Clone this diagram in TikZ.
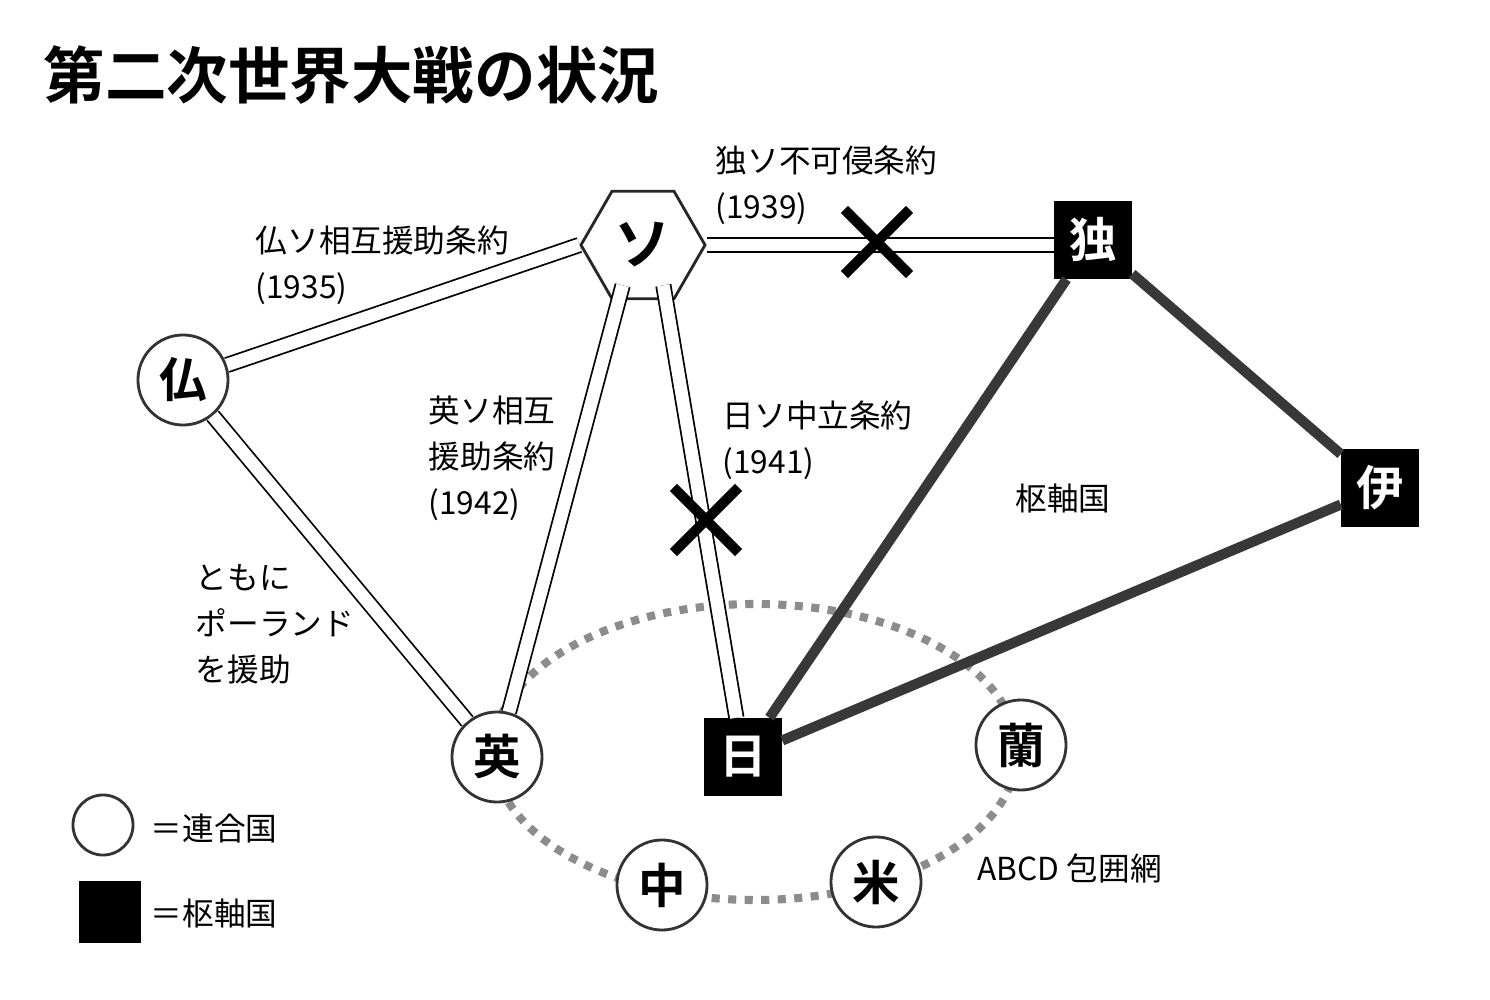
\documentclass[tikz,border=0pt]{standalone}
\usepackage{fontspec}
\setmainfont{Noto Sans CJK JP}[BoldFont={* Bold}]
\usetikzlibrary{shapes.geometric, shapes.misc, positioning}

\begin{document}
\begin{tikzpicture}[
    x=0.01cm, y=-0.01cm,
    ally/.style={circle, draw=black!80, thick, fill=white, minimum size=0.9cm, inner sep=0pt, font=\fontsize{13.5pt}{13.5pt}\selectfont\bfseries},
    axis/.style={rectangle, fill=black, text=white, minimum size=0.77cm, inner sep=0pt, font=\fontsize{13.5pt}{13.5pt}\selectfont\bfseries},
    soviet/.style={regular polygon, regular polygon sides=6, draw=black!85, thick, fill=white, minimum size=1.24cm, inner sep=0pt, font=\fontsize{16pt}{16pt}\selectfont\bfseries},
    pact/.style={draw, double, double distance=3.6pt, line width=0.5pt},
    axisline/.style={draw=black!78, line width=2.9pt},
    ring/.style={draw=black!45, line width=2.3pt, dash pattern=on 2.3pt off 2.4pt},
    broken/.style={cross out, draw, line width=2.9pt, minimum size=0.55cm, inner sep=0pt},
    note/.style={anchor=north west, inner sep=0pt, align=left, font=\fontsize{9pt}{13.1pt}\selectfont}
]
\useasboundingbox (0,0) rectangle (1490,1000);

\node [anchor=west, inner sep=0pt, font=\fontsize{17.5pt}{20pt}\selectfont\bfseries] (title) at (43,75) {第二次世界大戦の状況};

% ABCD ring
\draw [ring] (755,752) ellipse [x radius=262, y radius=148];

% countries
\node [soviet] (su) at (643,245) {ソ};
\node [ally] (fr) at (183,380) {仏};
\node [ally] (uk) at (497,757) {英};
\node [ally] (nl) at (1021,745) {蘭};
\node [ally] (cn) at (662,885) {中};
\node [ally] (us) at (876,882) {米};
\node [axis] (de) at (1093,240) {独};
\node [axis] (it) at (1380,488) {伊};
\node [axis] (jp) at (743,757) {日};

% treaties
\path [pact] (fr) -- (su.west);
\path [pact] (fr) -- (uk);
\path (su.south west) ++(20,0) coordinate (su1) (su.south east) ++(-20,0) coordinate (su2);
\path [pact] (su1) -- (uk);
\path [pact] (su2) -- (jp);
\path [pact] (su.east) -- (su.east -| de.west);
\path [axisline] (de) -- (jp);
\path [axisline] (de) -- (it);
\path [axisline] (it) -- (jp);

\node [broken] (x1) at (877,242) {};
\node [broken] (x2) at (706,520) {};

% labels
\node [note] (lds) at (715,145) {独ソ不可侵条約\\(1939)};
\node [note] (lfs) at (255,225) {仏ソ相互援助条約\\(1935)};
\node [note] (les) at (428,395) {英ソ相互\\援助条約\\(1942)};
\node [note] (ljs) at (722,400) {日ソ中立条約\\(1941)};
\node [note, anchor=center] (laxis) at (1063,498) {枢軸国};
\node [note] (lpl) at (195,564) {ともに\\ポーランド\\を援助};
\node [note, anchor=west] (labcd) at (977,868) {ABCD 包囲網};

% legend
\node [ally, minimum size=0.6cm] (keyally) at (103,825) {};
\node [note, anchor=west] (lally) at (150,828) {＝連合国};
\node [axis, minimum size=0.62cm] (keyaxis) at (110,912) {};
\node [note, anchor=west] (laxiskey) at (150,913) {＝枢軸国};
\end{tikzpicture}
\end{document}
